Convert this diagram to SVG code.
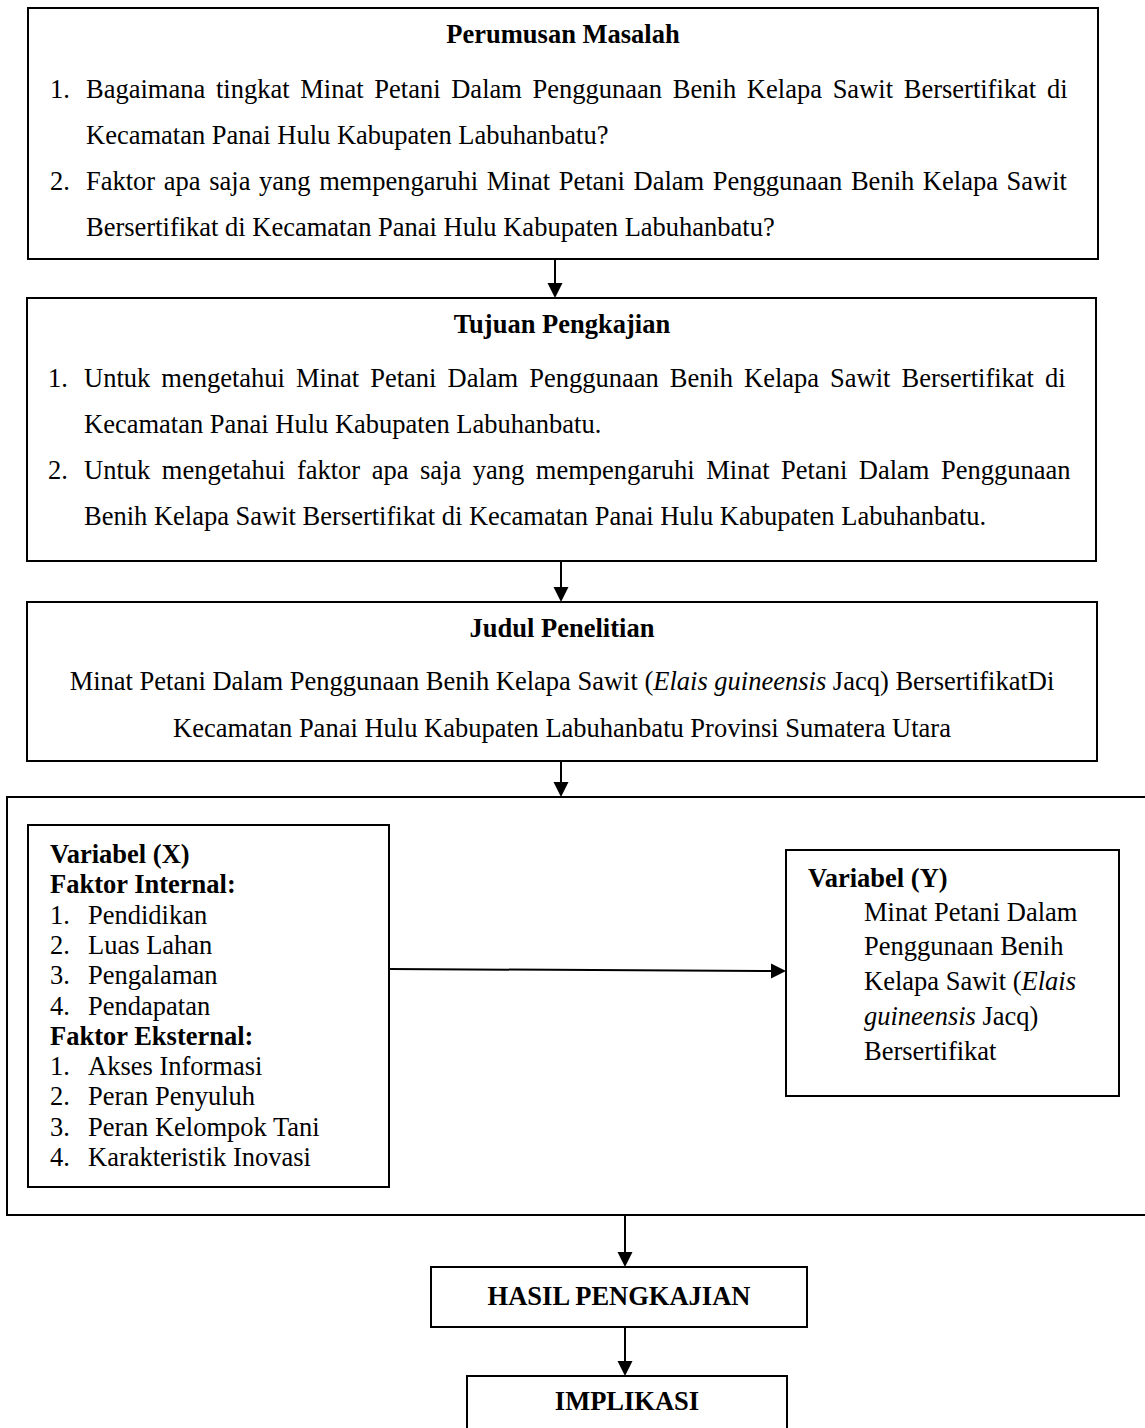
<svg xmlns="http://www.w3.org/2000/svg" width="1145" height="1428" viewBox="0 0 1145 1428">
<defs>
<style>
.box{fill:#fff;stroke:#000;stroke-width:2}
.t{font-family:'Liberation Serif','Times New Roman',serif;font-size:26.5px;fill:#000}
.b{font-weight:bold}
.c{text-anchor:middle}
.i{font-style:italic}
.conn line{stroke:#000;stroke-width:2;marker-end:url(#ah)}
</style>
<marker id="ah" markerUnits="userSpaceOnUse" markerWidth="16" markerHeight="16" viewBox="0 0 16 16" refX="5" refY="7.5" orient="auto">
<path d="M0,0 L15,7.5 L0,15 Z" fill="#000"/>
</marker>
</defs>
<rect width="1145" height="1428" fill="#fff"/>

<g id="perumusan">
<rect class="box" x="28" y="8" width="1070" height="251"/>
<text class="t b c" x="563" y="43">Perumusan Masalah</text>
<text class="t" x="50" y="98">1.</text>
<text class="t" x="86" y="98" word-spacing="4.1">Bagaimana tingkat Minat Petani Dalam Penggunaan Benih Kelapa Sawit Bersertifikat di</text>
<text class="t" x="86" y="144">Kecamatan Panai Hulu Kabupaten Labuhanbatu?</text>
<text class="t" x="50" y="190">2.</text>
<text class="t" x="86" y="190" word-spacing="2">Faktor apa saja yang mempengaruhi Minat Petani Dalam Penggunaan Benih Kelapa Sawit</text>
<text class="t" x="86" y="236">Bersertifikat di Kecamatan Panai Hulu Kabupaten Labuhanbatu?</text>
</g>

<g id="tujuan">
<rect class="box" x="27" y="298" width="1069" height="263"/>
<text class="t b c" x="562" y="333">Tujuan Pengkajian</text>
<text class="t" x="48" y="387">1.</text>
<text class="t" x="84" y="387" word-spacing="4.4">Untuk mengetahui Minat Petani Dalam Penggunaan Benih Kelapa Sawit Bersertifikat di</text>
<text class="t" x="84" y="433">Kecamatan Panai Hulu Kabupaten Labuhanbatu.</text>
<text class="t" x="48" y="479">2.</text>
<text class="t" x="84" y="479" word-spacing="4.9">Untuk mengetahui faktor apa saja yang mempengaruhi Minat Petani Dalam Penggunaan</text>
<text class="t" x="84" y="525">Benih Kelapa Sawit Bersertifikat di Kecamatan Panai Hulu Kabupaten Labuhanbatu.</text>
</g>

<g id="judul">
<rect class="box" x="27" y="602" width="1070" height="159"/>
<text class="t b c" x="562" y="637">Judul Penelitian</text>
<text class="t c" x="562" y="690">Minat Petani Dalam Penggunaan Benih Kelapa Sawit (<tspan class="i">Elais guineensis</tspan> Jacq) BersertifikatDi</text>
<text class="t c" x="562" y="737">Kecamatan Panai Hulu Kabupaten Labuhanbatu Provinsi Sumatera Utara</text>
</g>

<g id="variabel-frame">
<rect class="box" x="7" y="797" width="1150" height="418" stroke-width="2.5"/>
</g>

<g id="variabel-x">
<rect class="box" x="28" y="825" width="361" height="362"/>
<text class="t b" x="50" y="863">Variabel (X)</text>
<text class="t b" x="50" y="893">Faktor Internal:</text>
<text class="t" x="50" y="924">1.</text><text class="t" x="88" y="924">Pendidikan</text>
<text class="t" x="50" y="954">2.</text><text class="t" x="88" y="954">Luas Lahan</text>
<text class="t" x="50" y="984">3.</text><text class="t" x="88" y="984">Pengalaman</text>
<text class="t" x="50" y="1015">4.</text><text class="t" x="88" y="1015">Pendapatan</text>
<text class="t b" x="50" y="1045">Faktor Eksternal:</text>
<text class="t" x="50" y="1075">1.</text><text class="t" x="88" y="1075">Akses Informasi</text>
<text class="t" x="50" y="1105">2.</text><text class="t" x="88" y="1105">Peran Penyuluh</text>
<text class="t" x="50" y="1136">3.</text><text class="t" x="88" y="1136">Peran Kelompok Tani</text>
<text class="t" x="50" y="1166">4.</text><text class="t" x="88" y="1166">Karakteristik Inovasi</text>
</g>

<g id="variabel-y">
<rect class="box" x="786" y="850" width="333" height="246"/>
<text class="t b" x="808" y="887">Variabel (Y)</text>
<text class="t" x="864" y="921">Minat Petani Dalam</text>
<text class="t" x="864" y="955">Penggunaan Benih</text>
<text class="t" x="864" y="990">Kelapa Sawit (<tspan class="i">Elais</tspan></text>
<text class="t" x="864" y="1025"><tspan class="i">guineensis</tspan> Jacq)</text>
<text class="t" x="864" y="1060">Bersertifikat</text>
</g>

<g id="hasil">
<rect class="box" x="431" y="1267" width="376" height="60"/>
<text class="t b c" x="619" y="1305">HASIL PENGKAJIAN</text>
</g>

<g id="implikasi">
<rect class="box" x="467" y="1376" width="320" height="70"/>
<text class="t b c" x="627" y="1410">IMPLIKASI</text>
</g>

<g id="connectors" class="conn">
<line x1="555" y1="260" x2="555" y2="288"/>
<line x1="561" y1="562" x2="561" y2="592"/>
<line x1="561" y1="762" x2="561" y2="787"/>
<line x1="389" y1="969" x2="776" y2="971"/>
<line x1="625" y1="1216" x2="625" y2="1257"/>
<line x1="625" y1="1328" x2="625" y2="1366"/>
</g>
</svg>
